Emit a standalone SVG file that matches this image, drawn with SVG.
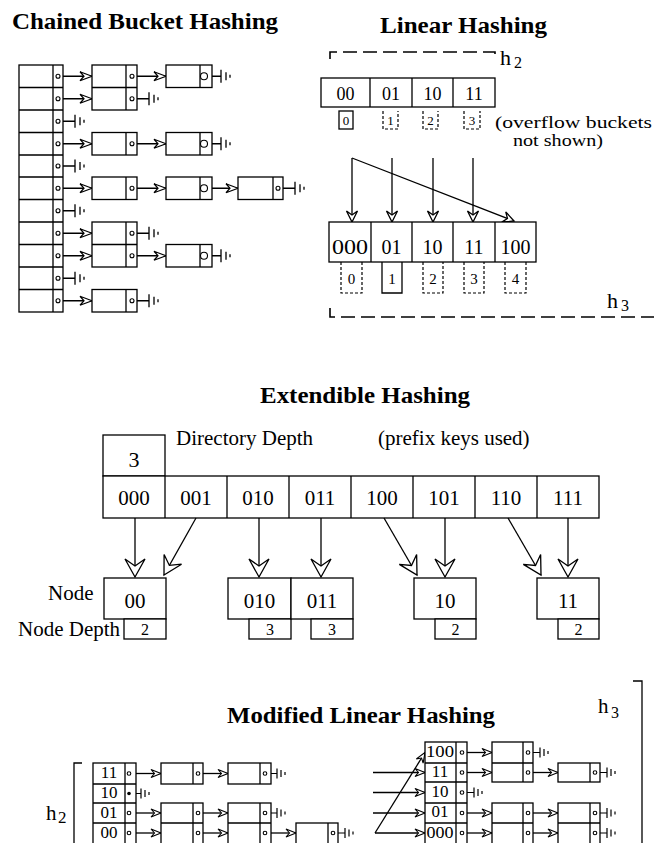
<svg xmlns="http://www.w3.org/2000/svg" width="654" height="843" viewBox="0 0 654 843">
<style>
.ln{stroke:#000;stroke-width:1.3;fill:none}
.bx{fill:#fff;stroke:#000;stroke-width:1.3}
.dsh{stroke:#000;stroke-width:1.6;fill:none;stroke-dasharray:14 6}
.dd{stroke:#000;stroke-width:1.2;fill:none;stroke-dasharray:3 2}
.dot{fill:#fff;stroke:#000;stroke-width:1.1}
text{font-family:"Liberation Serif","Times New Roman",serif;fill:#000}
.ttl{font-size:24px;font-weight:bold}
.lbl{font-size:21px}
.c{text-anchor:middle}
</style>
<defs>
<marker id="ma" markerUnits="userSpaceOnUse" markerWidth="13" markerHeight="10" refX="12" refY="5" orient="auto" overflow="visible"><path d="M12,5 L0,0.5 L4,5 L0,9.5 Z" fill="#fff" stroke="#000" stroke-width="1.2"/></marker>
<marker id="mb" markerUnits="userSpaceOnUse" markerWidth="11" markerHeight="9" refX="10" refY="4" orient="auto" overflow="visible"><path d="M10,4 L0,0 L3.5,4 L0,8 Z" fill="#fff" stroke="#000" stroke-width="1.1"/></marker>
<marker id="mc" markerUnits="userSpaceOnUse" markerWidth="12" markerHeight="12" refX="11" refY="5.5" orient="auto" overflow="visible"><path d="M11,5.5 L0,0 L4,5.5 L0,11 Z" fill="#fff" stroke="#000" stroke-width="1.3"/></marker>
<marker id="md" markerUnits="userSpaceOnUse" markerWidth="19" markerHeight="21" refX="18" refY="10" orient="auto" overflow="visible"><path d="M18,10 L0,0 L7,10 L0,20 Z" fill="#fff" stroke="#000" stroke-width="1.3"/></marker>
<path id="g1" d="M0,0H17M17,-6.5V6.5M22,-4V4M26,-1.5V1.5" stroke="#000" stroke-width="1.3" fill="none"/>
<path id="g2" d="M0,0H12M12,-5V5M16,-3.5V3.5M20,-1.5V1.5" stroke="#000" stroke-width="1.2" fill="none"/>
</defs>
<rect width="654" height="843" fill="#fff"/>

<!-- ================= Chained Bucket Hashing ================= -->
<text class="ttl" x="12" y="29" textLength="266" lengthAdjust="spacingAndGlyphs">Chained Bucket Hashing</text>
<g id="cb-connectors">
<line class="ln" x1="58" y1="76.25" x2="92" y2="76.25" marker-end="url(#ma)"/>
<line class="ln" x1="58" y1="98.75" x2="92" y2="98.75" marker-end="url(#ma)"/>
<line class="ln" x1="58" y1="143.75" x2="92" y2="143.75" marker-end="url(#ma)"/>
<line class="ln" x1="58" y1="188.25" x2="92" y2="188.25" marker-end="url(#ma)"/>
<line class="ln" x1="58" y1="233.25" x2="92" y2="233.25" marker-end="url(#ma)"/>
<line class="ln" x1="58" y1="255.75" x2="92" y2="255.75" marker-end="url(#ma)"/>
<line class="ln" x1="58" y1="300.75" x2="92" y2="300.75" marker-end="url(#ma)"/>
<line class="ln" x1="132" y1="76.25" x2="166" y2="76.25" marker-end="url(#ma)"/>
<line class="ln" x1="132" y1="143.75" x2="166" y2="143.75" marker-end="url(#ma)"/>
<line class="ln" x1="132" y1="188.25" x2="166" y2="188.25" marker-end="url(#ma)"/>
<line class="ln" x1="132" y1="255.75" x2="166" y2="255.75" marker-end="url(#ma)"/>
<line class="ln" x1="204" y1="188.25" x2="238" y2="188.25" marker-end="url(#ma)"/>
<use href="#g1" x="58" y="121.25"/>
<use href="#g1" x="58" y="166"/>
<use href="#g1" x="58" y="210.75"/>
<use href="#g1" x="58" y="278.25"/>
<use href="#g1" x="132" y="98.75"/>
<use href="#g1" x="132" y="233.25"/>
<use href="#g1" x="132" y="300.75"/>
<use href="#g1" x="204" y="76.25"/>
<use href="#g1" x="204" y="143.75"/>
<use href="#g1" x="204" y="255.75"/>
<use href="#g1" x="278" y="188.25"/>
</g>
<g id="cb-directory">
<rect class="bx" x="19" y="65" width="44" height="247"/>
<path class="ln" d="M53,65V312M19,87.5H63M19,110H63M19,132.5H63M19,155H63M19,177H63M19,199.5H63M19,222H63M19,244.5H63M19,267H63M19,289.5H63"/>
<g class="dot"><circle cx="58" cy="76.25" r="2"/><circle cx="58" cy="98.75" r="2"/><circle cx="58" cy="121.25" r="2"/><circle cx="58" cy="143.75" r="2"/><circle cx="58" cy="166" r="2"/><circle cx="58" cy="188.25" r="2"/><circle cx="58" cy="210.75" r="2"/><circle cx="58" cy="233.25" r="2"/><circle cx="58" cy="255.75" r="2"/><circle cx="58" cy="278.25" r="2"/><circle cx="58" cy="300.75" r="2"/></g>
</g>
<g id="cb-bucket-1">
<rect class="bx" x="92" y="65" width="45" height="45"/><path class="ln" d="M92,87.5H137M126,65V110"/>
<circle class="dot" cx="132" cy="76.25" r="2"/><circle class="dot" cx="132" cy="98.75" r="2"/>
</g>
<g id="cb-bucket-2">
<rect class="bx" x="166" y="65" width="46" height="22.5"/><path class="ln" d="M200,65V87.5"/><circle class="dot" cx="204" cy="76.25" r="3.5"/>
</g>
<g id="cb-bucket-3">
<rect class="bx" x="92" y="132.5" width="45" height="22.5"/><path class="ln" d="M126,132.5V155"/><circle class="dot" cx="132" cy="143.75" r="2"/>
</g>
<g id="cb-bucket-4">
<rect class="bx" x="166" y="132.5" width="46" height="22.5"/><path class="ln" d="M200,132.5V155"/><circle class="dot" cx="204" cy="143.75" r="3.5"/>
</g>
<g id="cb-bucket-5">
<rect class="bx" x="92" y="177" width="45" height="22.5"/><path class="ln" d="M126,177V199.5"/><circle class="dot" cx="132" cy="188.25" r="2"/>
</g>
<g id="cb-bucket-6">
<rect class="bx" x="166" y="177" width="46" height="22.5"/><path class="ln" d="M200,177V199.5"/><circle class="dot" cx="204" cy="188.25" r="3.5"/>
</g>
<g id="cb-bucket-7">
<rect class="bx" x="238" y="177" width="45" height="22.5"/><path class="ln" d="M273,177V199.5"/><circle class="dot" cx="278" cy="188.25" r="2"/>
</g>
<g id="cb-bucket-8">
<rect class="bx" x="92" y="222" width="45" height="45"/><path class="ln" d="M92,244.5H137M126,222V267"/>
<circle class="dot" cx="132" cy="233.25" r="2"/><circle class="dot" cx="132" cy="255.75" r="2"/>
</g>
<g id="cb-bucket-9">
<rect class="bx" x="166" y="244.5" width="46" height="22.5"/><path class="ln" d="M200,244.5V267"/><circle class="dot" cx="204" cy="255.75" r="3.5"/>
</g>
<g id="cb-bucket-10">
<rect class="bx" x="92" y="289.5" width="45" height="22.5"/><path class="ln" d="M126,289.5V312"/><circle class="dot" cx="132" cy="300.75" r="2"/>
</g>

<!-- ================= Linear Hashing ================= -->
<text class="ttl" x="380" y="33" textLength="167" lengthAdjust="spacingAndGlyphs">Linear Hashing</text>
<g id="lh-h2">
<path class="dsh" d="M330,59V52H495V59"/>
<text x="500" y="65" style="font-size:22px">h</text><text x="514" y="68" style="font-size:16px">2</text>
</g>
<g id="lh-row1">
<rect class="bx" x="321" y="78" width="174" height="29"/>
<path class="ln" d="M370,78V107M412,78V107M453,78V107"/>
<g style="font-size:18px" class="c"><text x="345.5" y="100">00</text><text x="391" y="100">01</text><text x="432.5" y="100">10</text><text x="474" y="100">11</text></g>
</g>
<g id="lh-overflow1">
<rect class="bx" x="339" y="111" width="14" height="18"/>
<path class="dd" d="M383,111V129H398V111M423,111V129H438V111M464,111V129H480V111"/>
<g style="font-size:13px" class="c"><text x="346" y="125">0</text><text x="390.5" y="125">1</text><text x="430.5" y="125">2</text><text x="472" y="125">3</text></g>
</g>
<text x="495" y="128" style="font-size:17px" textLength="157" lengthAdjust="spacingAndGlyphs">(overflow buckets</text>
<text x="513" y="146" style="font-size:17px" textLength="90" lengthAdjust="spacingAndGlyphs">not shown)</text>
<g id="lh-connectors">
<line class="ln" x1="352" y1="158" x2="352" y2="222" marker-end="url(#mc)"/>
<line class="ln" x1="352" y1="158" x2="514" y2="221" marker-end="url(#mc)"/>
<line class="ln" x1="392" y1="158" x2="392" y2="222" marker-end="url(#mc)"/>
<line class="ln" x1="433" y1="158" x2="433" y2="222" marker-end="url(#mc)"/>
<line class="ln" x1="473" y1="158" x2="473" y2="222" marker-end="url(#mc)"/>
</g>
<g id="lh-row2">
<rect class="bx" x="329" y="222" width="207" height="40"/>
<path class="ln" d="M371,222V262M412,222V262M453,222V262M495,222V262"/>
<g style="font-size:20px" class="c"><text x="350" y="254" textLength="36" lengthAdjust="spacingAndGlyphs">000</text><text x="391.5" y="254">01</text><text x="432.5" y="254">10</text><text x="474" y="254">11</text><text x="515.5" y="254">100</text></g>
</g>
<g id="lh-overflow2">
<path class="dd" d="M341,262V293H362V262M423,262V293H443V262M464,262V293H484V262M505,262V293H526V262"/>
<path class="ln" d="M382,262V293H402V262"/>
<g style="font-size:15px" class="c"><text x="351.5" y="284">0</text><text x="392" y="284">1</text><text x="433" y="284">2</text><text x="474" y="284">3</text><text x="515.5" y="284">4</text></g>
</g>
<g id="lh-h3">
<path class="dsh" d="M330,308V317H654"/>
<text x="607" y="308" style="font-size:22px">h</text><text x="621" y="311" style="font-size:16px">3</text>
</g>

<!-- ================= Extendible Hashing ================= -->
<text class="ttl" x="260" y="403" textLength="210" lengthAdjust="spacingAndGlyphs">Extendible Hashing</text>
<g id="eh-depth">
<rect class="bx" x="103" y="435" width="62" height="41"/>
<text class="c" x="134" y="467" style="font-size:22px">3</text>
</g>
<text class="lbl" x="176" y="445">Directory Depth</text>
<text class="lbl" x="378" y="445">(prefix keys used)</text>
<g id="eh-directory">
<rect class="bx" x="103" y="476" width="496" height="42"/>
<path class="ln" d="M165,476V518M227,476V518M289,476V518M351,476V518M413,476V518M475,476V518M537,476V518"/>
<g class="lbl c"><text x="134" y="505">000</text><text x="196" y="505">001</text><text x="258" y="505">010</text><text x="320" y="505">011</text><text x="382" y="505">100</text><text x="444" y="505">101</text><text x="506" y="505">110</text><text x="568" y="505">111</text></g>
</g>
<g id="eh-connectors">
<line class="ln" x1="135" y1="518" x2="135" y2="577" marker-end="url(#md)"/>
<line class="ln" x1="196" y1="518" x2="164" y2="575" marker-end="url(#md)"/>
<line class="ln" x1="259" y1="518" x2="259" y2="577" marker-end="url(#md)"/>
<line class="ln" x1="321" y1="518" x2="321" y2="577" marker-end="url(#md)"/>
<line class="ln" x1="384" y1="518" x2="417" y2="575" marker-end="url(#md)"/>
<line class="ln" x1="445" y1="518" x2="445" y2="577" marker-end="url(#md)"/>
<line class="ln" x1="508" y1="518" x2="541" y2="575" marker-end="url(#md)"/>
<line class="ln" x1="568" y1="518" x2="568" y2="577" marker-end="url(#md)"/>
</g>
<text class="lbl" x="48" y="600">Node</text>
<text class="lbl" x="18" y="636">Node Depth</text>
<g id="eh-node-00">
<rect class="bx" x="104" y="578" width="62" height="41"/><rect class="bx" x="124" y="619" width="42" height="20"/>
<text class="lbl c" x="135" y="608">00</text><text class="c" x="145" y="635" style="font-size:16px">2</text>
</g>
<g id="eh-node-010">
<rect class="bx" x="228" y="578" width="63" height="41"/><rect class="bx" x="249" y="619" width="42" height="20"/>
<text class="lbl c" x="259.5" y="608">010</text><text class="c" x="270" y="635" style="font-size:16px">3</text>
</g>
<g id="eh-node-011">
<rect class="bx" x="291" y="578" width="62" height="41"/><rect class="bx" x="311" y="619" width="42" height="20"/>
<text class="lbl c" x="322" y="608">011</text><text class="c" x="332" y="635" style="font-size:16px">3</text>
</g>
<g id="eh-node-10">
<rect class="bx" x="414" y="578" width="62" height="41"/><rect class="bx" x="435" y="619" width="41" height="20"/>
<text class="lbl c" x="445" y="608">10</text><text class="c" x="455.5" y="635" style="font-size:16px">2</text>
</g>
<g id="eh-node-11">
<rect class="bx" x="537" y="578" width="62" height="41"/><rect class="bx" x="558" y="619" width="41" height="20"/>
<text class="lbl c" x="568" y="608">11</text><text class="c" x="578.5" y="635" style="font-size:16px">2</text>
</g>

<!-- ================= Modified Linear Hashing ================= -->
<text class="ttl" x="227" y="723" textLength="268" lengthAdjust="spacingAndGlyphs">Modified Linear Hashing</text>
<g id="ml-h3">
<path class="ln" d="M633,681H642V843"/>
<text x="598" y="713" style="font-size:21px">h</text><text x="611" y="718" style="font-size:16px">3</text>
</g>
<g id="ml-h2">
<path class="ln" d="M82,763H74V843"/>
<text x="46" y="820" style="font-size:21px">h</text><text x="58" y="823" style="font-size:17px">2</text>
</g>
<g id="ml-connectors">
<line class="ln" x1="129" y1="773.5" x2="161" y2="773.5" marker-end="url(#mb)"/>
<line class="ln" x1="129" y1="813" x2="161" y2="813" marker-end="url(#mb)"/>
<line class="ln" x1="129" y1="833" x2="161" y2="833" marker-end="url(#mb)"/>
<line class="ln" x1="198" y1="773.5" x2="228" y2="773.5" marker-end="url(#mb)"/>
<line class="ln" x1="198" y1="813" x2="228" y2="813" marker-end="url(#mb)"/>
<line class="ln" x1="198" y1="833" x2="228" y2="833" marker-end="url(#mb)"/>
<line class="ln" x1="265" y1="833" x2="296" y2="833" marker-end="url(#mb)"/>
<use href="#g2" x="129" y="793.5"/>
<use href="#g2" x="265" y="773.5"/>
<use href="#g2" x="265" y="813"/>
<use href="#g2" x="333" y="833"/>
<line class="ln" x1="373" y1="772.5" x2="425" y2="772.5" marker-end="url(#mb)"/>
<line class="ln" x1="373" y1="792.5" x2="425" y2="792.5" marker-end="url(#mb)"/>
<line class="ln" x1="373" y1="813" x2="425" y2="813" marker-end="url(#mb)"/>
<line class="ln" x1="375" y1="833" x2="425" y2="833" marker-end="url(#mb)"/>
<line class="ln" x1="375" y1="833" x2="425" y2="752.5" marker-end="url(#mb)"/>
<line class="ln" x1="462" y1="752.5" x2="492" y2="752.5" marker-end="url(#mb)"/>
<line class="ln" x1="462" y1="772.5" x2="492" y2="772.5" marker-end="url(#mb)"/>
<line class="ln" x1="462" y1="813" x2="492" y2="813" marker-end="url(#mb)"/>
<line class="ln" x1="462" y1="833" x2="492" y2="833" marker-end="url(#mb)"/>
<line class="ln" x1="528" y1="772.5" x2="558" y2="772.5" marker-end="url(#mb)"/>
<line class="ln" x1="528" y1="813" x2="558" y2="813" marker-end="url(#mb)"/>
<line class="ln" x1="528" y1="833" x2="558" y2="833" marker-end="url(#mb)"/>
<use href="#g2" x="462" y="792.5"/>
<use href="#g2" x="528" y="752.5"/>
<use href="#g2" x="595" y="772.5"/>
<use href="#g2" x="595" y="813"/>
<use href="#g2" x="595" y="833"/>
</g>
<g id="ml-left-directory">
<rect class="bx" x="93" y="763" width="43" height="85"/>
<path class="ln" d="M125,763V848M93,784H136M93,803H136M93,823H136"/>
<g class="c" style="font-size:17px"><text x="109" y="778">11</text><text x="109" y="798">10</text><text x="109" y="818">01</text><text x="109" y="838">00</text></g>
<circle class="dot" cx="129" cy="773.5" r="1.8"/><circle cx="129" cy="793.5" r="1.8" fill="#000"/><circle class="dot" cx="129" cy="813" r="1.8"/><circle class="dot" cx="129" cy="833" r="1.8"/>
</g>
<g id="ml-left-bucket-1">
<rect class="bx" x="161" y="763" width="42" height="21"/><path class="ln" d="M193,763V784"/><circle class="dot" cx="198" cy="773.5" r="1.8"/>
</g>
<g id="ml-left-bucket-2">
<rect class="bx" x="228" y="763" width="43" height="21"/><path class="ln" d="M260,763V784"/><circle class="dot" cx="265" cy="773.5" r="1.8"/>
</g>
<g id="ml-left-bucket-3">
<rect class="bx" x="161" y="803" width="42" height="45"/><path class="ln" d="M193,803V848M161,823H203"/><circle class="dot" cx="198" cy="813" r="1.8"/><circle class="dot" cx="198" cy="833" r="1.8"/>
</g>
<g id="ml-left-bucket-4">
<rect class="bx" x="228" y="803" width="43" height="45"/><path class="ln" d="M260,803V848M228,823H271"/><circle class="dot" cx="265" cy="813" r="1.8"/><circle class="dot" cx="265" cy="833" r="1.8"/>
</g>
<g id="ml-left-bucket-5">
<rect class="bx" x="296" y="823" width="42" height="25"/><path class="ln" d="M328,823V848"/><circle class="dot" cx="333" cy="833" r="1.8"/>
</g>
<g id="ml-right-directory">
<rect class="bx" x="425" y="742" width="42" height="106"/>
<path class="ln" d="M456,742V848M425,763H467M425,782H467M425,803H467M425,823H467"/>
<g class="c" style="font-size:17px"><text x="440" y="757" textLength="28" lengthAdjust="spacingAndGlyphs">100</text><text x="440" y="777">11</text><text x="440" y="797">10</text><text x="440" y="817">01</text><text x="440" y="838" textLength="27" lengthAdjust="spacingAndGlyphs">000</text></g>
<g class="dot"><circle cx="462" cy="752.5" r="1.8"/><circle cx="462" cy="772.5" r="1.8"/><circle cx="462" cy="792.5" r="1.8"/><circle cx="462" cy="813" r="1.8"/><circle cx="462" cy="833" r="1.8"/></g>
</g>
<g id="ml-right-bucket-1">
<rect class="bx" x="492" y="742" width="41" height="40"/><path class="ln" d="M523,742V782M492,763H533"/><circle class="dot" cx="528" cy="752.5" r="1.8"/><circle class="dot" cx="528" cy="772.5" r="1.8"/>
</g>
<g id="ml-right-bucket-2">
<rect class="bx" x="558" y="763" width="42" height="19"/><path class="ln" d="M590,763V782"/><circle class="dot" cx="595" cy="772.5" r="1.8"/>
</g>
<g id="ml-right-bucket-3">
<rect class="bx" x="492" y="803" width="41" height="45"/><path class="ln" d="M523,803V848M492,823H533"/><circle class="dot" cx="528" cy="813" r="1.8"/><circle class="dot" cx="528" cy="833" r="1.8"/>
</g>
<g id="ml-right-bucket-4">
<rect class="bx" x="558" y="803" width="42" height="45"/><path class="ln" d="M590,803V848M558,823H600"/><circle class="dot" cx="595" cy="813" r="1.8"/><circle class="dot" cx="595" cy="833" r="1.8"/>
</g>
</svg>
